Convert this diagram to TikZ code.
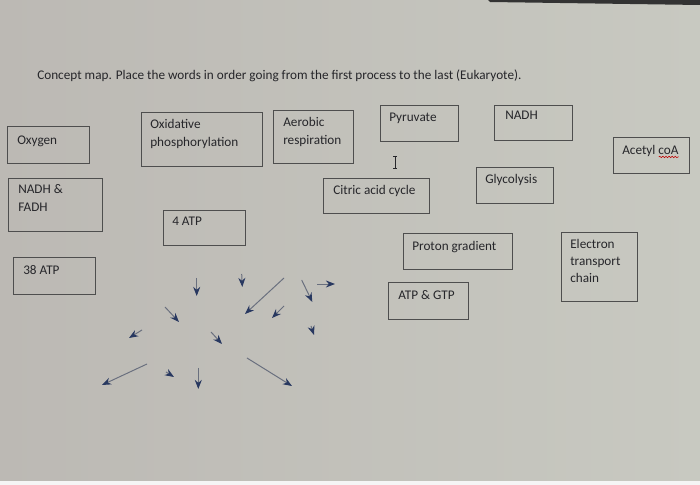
\documentclass[tikz,border=0pt]{standalone}
\usepackage{fontspec}
\setmainfont{Carlito}
\usetikzlibrary{arrows.meta,decorations.pathmorphing}
\definecolor{screenleft}{RGB}{188,185,180}
\definecolor{screenmid}{RGB}{218,216,209}
\definecolor{screenright}{RGB}{200,201,193}
\definecolor{boxline}{RGB}{78,78,78}
\definecolor{ink}{RGB}{38,38,42}
\definecolor{shaft}{RGB}{105,111,126}
\definecolor{tip}{RGB}{40,56,96}
\newlength{\pix}
\setlength{\pix}{0.025cm}
\tikzset{
  card/.style={draw=boxline, line width=0.9pt, anchor=north west, inner sep=0pt},
  word/.style={anchor=north west, align=left, inner sep=0pt, text=ink,
    font=\fontsize{9.4}{12.8}\selectfont},
  stray/.style={draw=shaft, line width=0.7pt, -{Stealth[length=6.5pt,width=5pt,color=tip]}}
}
\begin{document}
\begin{tikzpicture}[x=0.025cm, y=-0.025cm]
% photographed screen
\shade[left color=screenleft, middle color=screenmid, right color=screenright] (0,0) rectangle (700,485);
\useasboundingbox (0,0) rectangle (700,485);
\fill[black!80] (488,0) -- (700,0) -- (700,5) -- (490,2) -- cycle;
\fill[white!92!gray] (0,481) rectangle (700,485);

\node[anchor=base west, inner sep=0pt, text=ink, font=\fontsize{9.4}{11}\selectfont] (title) at (37,80)
  {Concept map. Place the words in order going from the first process to the last (Eukaryote).};

% boxes
\node[card, minimum width=82\pix, minimum height=37\pix] (oxygen) at (7,126) {};
\node[card, minimum width=121\pix, minimum height=54\pix] (oxphos) at (141,112) {};
\node[card, minimum width=80\pix, minimum height=53\pix] (aerobic) at (273,110) {};
\node[card, minimum width=78\pix, minimum height=36\pix] (pyruvate) at (380,105) {};
\node[card, minimum width=78\pix, minimum height=35\pix] (nadh) at (494,105) {};
\node[card, minimum width=76\pix, minimum height=36\pix] (acetyl) at (613,137) {};
\node[card, minimum width=94\pix, minimum height=53\pix] (nadhfadh) at (8,178) {};
\node[card, minimum width=106\pix, minimum height=35\pix] (citric) at (323,178) {};
\node[card, minimum width=77\pix, minimum height=36\pix] (glyco) at (476,167) {};
\node[card, minimum width=82\pix, minimum height=35\pix] (fouratp) at (163,210) {};
\node[card, minimum width=109\pix, minimum height=36\pix] (proton) at (403,233) {};
\node[card, minimum width=76\pix, minimum height=69\pix] (etc) at (561,232) {};
\node[card, minimum width=80\pix, minimum height=37\pix] (atpgtp) at (388,282) {};
\node[card, minimum width=82\pix, minimum height=37\pix] (atpall) at (13,257) {};

% words
\node[word] (oxygentext) at ([shift={(10,10)}]oxygen.north west) {Oxygen};
\node[word] (oxphostext) at ([shift={(9,7)}]oxphos.north west) {Oxidative\\phosphorylation};
\node[word] (aerobictext) at ([shift={(10,7)}]aerobic.north west) {Aerobic\\respiration};
\node[word] (pyruvatetext) at ([shift={(9,8)}]pyruvate.north west) {Pyruvate};
\node[word] (nadhtext) at ([shift={(11,6)}]nadh.north west) {NADH};
\node[word] (acetyltext) at ([shift={(9,8)}]acetyl.north west) {Acetyl coA};
\node[word] (nadhfadhtext) at ([shift={(10,6)}]nadhfadh.north west) {NADH \&\\FADH};
\node[word] (citrictext) at ([shift={(10,7)}]citric.north west) {Citric acid cycle};
\node[word] (glycotext) at ([shift={(9,7)}]glyco.north west) {Glycolysis};
\node[word] (fouratptext) at ([shift={(9,7)}]fouratp.north west) {4 ATP};
\node[word] (protontext) at ([shift={(9,8)}]proton.north west) {Proton gradient};
\node[word, font=\fontsize{9.4}{12}\selectfont] (etctext) at ([shift={(9,7)}]etc.north west) {Electron\\transport\\chain};
\node[word] (atpgtptext) at ([shift={(10,8)}]atpgtp.north west) {ATP \& GTP};
\node[word] (atpalltext) at ([shift={(10,8)}]atpall.north west) {38 ATP};

% spell check mark under coA
\draw[red!75!black, line width=0.4pt, decorate, decoration={snake, amplitude=0.5pt, segment length=2.2pt}]
  ([shift={(-20,2.5)}]acetyltext.base east) -- ([shift={(0,2.5)}]acetyltext.base east);

% text cursor
\draw[ink, line width=0.5pt] (395,156) -- (395,168) (393,156) -- (397,156) (393,168) -- (397,168);

% loose arrows
\foreach \xa/\ya/\xb/\yb in {196.7/278/196.7/296, 241.7/274/242.3/287, 284/278/245/314,
    301.7/280/312.3/302, 317/284/335/284, 165/307/179/322, 284/306/272/318,
    311/326/314/335, 142/330/129/338, 211/332/222/344, 147/364/102/385,
    166/372/174/377, 198.3/368/198.3/389, 247/358/292/386}
  \draw[stray] (\xa,\ya) -- (\xb,\yb);
\end{tikzpicture}
\end{document}
